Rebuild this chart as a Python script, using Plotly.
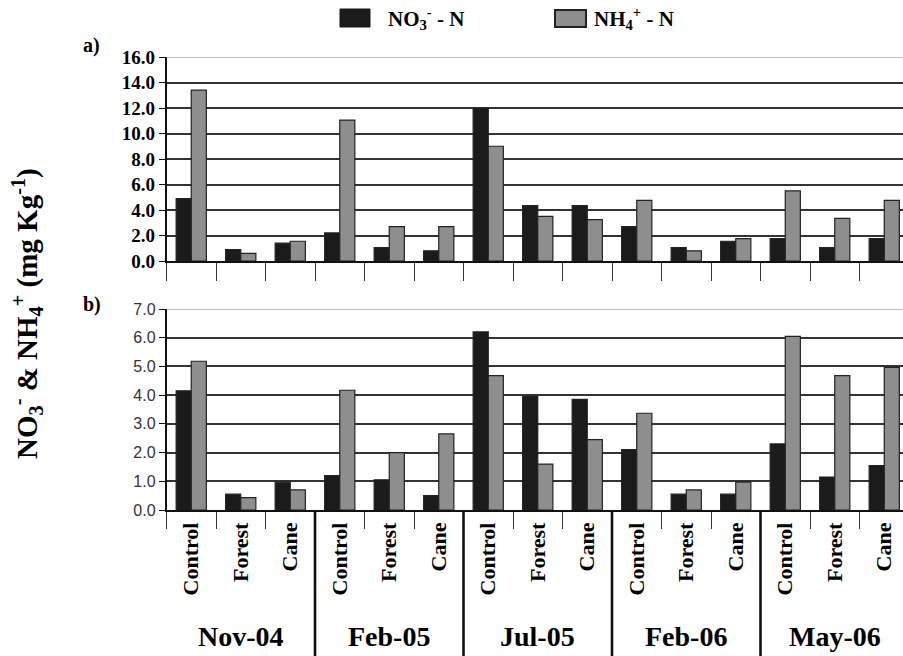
import plotly.graph_objects as go

# ---- data ----
dates = ["Nov-04", "Feb-05", "Jul-05", "Feb-06", "May-06"]
sites = ["Control", "Forest", "Cane"]

no3_a = [4.9, 0.9, 1.4, 2.2, 1.05, 0.8, 12.0, 4.35, 4.35, 2.7, 1.05, 1.55, 1.75, 1.05, 1.75]
nh4_a = [13.4, 0.6, 1.55, 11.05, 2.7, 2.7, 9.0, 3.5, 3.25, 4.75, 0.8, 1.75, 5.5, 3.35, 4.75]

no3_b = [4.15, 0.55, 0.97, 1.2, 1.05, 0.5, 6.2, 3.95, 3.85, 2.1, 0.55, 0.55, 2.3, 1.15, 1.55]
nh4_b = [5.18, 0.43, 0.7, 4.17, 2.0, 2.65, 4.68, 1.6, 2.45, 3.37, 0.7, 0.97, 6.05, 4.68, 4.97]

# ---- layout helpers ----
W, H = 903, 656
cats = [s for d in dates for s in sites]
xs = list(range(len(cats)))
nsite = len(sites)
SERIF = "Liberation Serif, Times New Roman, serif"
SANS = "Liberation Sans, Arial, sans-serif"
DARK = "#1b1b1b"
GRAY = "#8e8e8e"
EDGE = "#222222"

def py(p):  # pixel from top -> paper fraction
    return (H - p) / H

def pxx(p):
    return p / W

x_left = 166.5
cat_w = 49.5
x_hi = -0.5 + (W - x_left) / cat_w

fig = go.Figure()
for xa, ya, d1, d2 in [("x", "y", no3_a, nh4_a), ("x2", "y2", no3_b, nh4_b)]:
    fig.add_trace(go.Bar(x=xs, y=d1, xaxis=xa, yaxis=ya, marker=dict(color=DARK, line=dict(color=EDGE, width=1.2)),
                         name="NO3- - N", showlegend=False))
    fig.add_trace(go.Bar(x=xs, y=d2, xaxis=xa, yaxis=ya, marker=dict(color=GRAY, line=dict(color=EDGE, width=1.2)),
                         name="NH4+ - N", showlegend=False))

bounds = [i - 0.5 for i in range(len(cats) + 1)]

common_x = dict(range=[-0.5, x_hi], domain=[pxx(x_left), 1], showgrid=False, zeroline=False,
                showline=True, linecolor="#111", linewidth=1.5, automargin=False)

fig.update_layout(
    width=W, height=H, margin=dict(l=0, r=0, t=0, b=0, autoexpand=False),
    paper_bgcolor="white", plot_bgcolor="white",
    barmode="group", bargap=0.39, bargroupgap=0,
    xaxis=dict(**common_x, anchor="y", tickmode="array", tickvals=[], ticks="", showticklabels=False,
               minor=dict(tickvals=bounds, ticks="outside", ticklen=18, tickwidth=1.2, tickcolor="#333")),
    yaxis=dict(domain=[py(261), py(57)], range=[0, 16], tickmode="array", tickvals=list(range(0, 17, 2)),
               tickformat=".1f", showgrid=True, gridcolor="#333333", gridwidth=1.7, zeroline=False,
               showline=True, linecolor="#111", linewidth=1.5, ticks="outside", ticklen=6, tickcolor="#111",
               tickfont=dict(family=SERIF, size=19, color="black", weight="bold"), anchor="x",
               automargin=False),
    xaxis2=dict(**common_x, anchor="y2", tickmode="array", tickvals=xs, ticktext=cats, ticks="",
                tickangle=-90, ticklabelstandoff=2,
                tickfont=dict(family=SERIF, size=22, color="black", weight="bold"),
                minor=dict(tickvals=bounds, ticks="outside", ticklen=17, tickwidth=1.2, tickcolor="#333")),
    yaxis2=dict(domain=[py(510), py(309)], range=[0, 7], tickmode="array", tickvals=list(range(0, 8)),
                tickformat=".1f", showgrid=True, gridcolor="#333333", gridwidth=1.7, zeroline=False,
                showline=True, linecolor="#111", linewidth=1.5, ticks="outside", ticklen=6, tickcolor="#111",
                tickfont=dict(family=SANS, size=16, color="#333"), anchor="x2", automargin=False),
)

shapes = []
# lighter top gridlines
shapes.append(dict(type="line", xref="x", yref="y", x0=-0.5, x1=x_hi, y0=16, y1=16,
                   line=dict(color="#a8a8a8", width=1.6)))
shapes.append(dict(type="line", xref="x2", yref="y2", x0=-0.5, x1=x_hi, y0=7, y1=7,
                   line=dict(color="#a8a8a8", width=1.6)))
# group separators in panel b
for g in range(1, len(dates)):
    xb = g * nsite - 0.5
    shapes.append(dict(type="line", xref="x2", yref="paper", x0=xb, x1=xb, y0=0, y1=py(510),
                       line=dict(color="#111", width=2.6)))
# legend boxes
shapes.append(dict(type="rect", xref="paper", yref="paper", x0=pxx(340), x1=pxx(370), y0=py(27), y1=py(9),
                   fillcolor=DARK, line=dict(color=DARK, width=1)))
shapes.append(dict(type="rect", xref="paper", yref="paper", x0=pxx(555), x1=pxx(586), y0=py(27), y1=py(10),
                   fillcolor=GRAY, line=dict(color="#222", width=2)))
fig.update_layout(shapes=shapes)

ann = []
for i, d in enumerate(dates):
    ann.append(dict(x=i * nsite + 1, y=py(636), xref="x2", yref="paper", text=d, showarrow=False,
                    yanchor="middle", font=dict(family=SERIF, size=28, color="black", weight="bold")))
ann.append(dict(x=pxx(27), y=py(314), xref="paper", yref="paper", textangle=-90, showarrow=False,
                yanchor="middle", xanchor="center",
                text="NO<sub>3</sub><sup>-</sup> &amp; NH<sub>4</sub><sup>+</sup> (mg Kg<sup>-1</sup>)",
                font=dict(family=SERIF, size=29, color="black", weight="bold")))
ann.append(dict(x=pxx(81), y=py(45), xref="paper", yref="paper", text="a)", showarrow=False, xanchor="left",
                yanchor="middle", font=dict(family=SERIF, size=20, color="black", weight="bold")))
ann.append(dict(x=pxx(81), y=py(304), xref="paper", yref="paper", text="b)", showarrow=False, xanchor="left",
                yanchor="middle", font=dict(family=SERIF, size=20, color="black", weight="bold")))
ann.append(dict(x=pxx(386), y=py(19), xref="paper", yref="paper", text="NO<sub>3</sub><sup>-</sup> - N",
                showarrow=False, xanchor="left", yanchor="middle",
                font=dict(family=SERIF, size=21, color="black", weight="bold")))
ann.append(dict(x=pxx(592), y=py(19), xref="paper", yref="paper", text="NH<sub>4</sub><sup>+</sup> - N",
                showarrow=False, xanchor="left", yanchor="middle",
                font=dict(family=SERIF, size=21, color="black", weight="bold")))
fig.update_layout(annotations=ann)

fig.write_html("out.html", config={"displayModeBar": False},
               post_script="document.body.style.margin='0px';document.body.style.overflow='hidden';")
